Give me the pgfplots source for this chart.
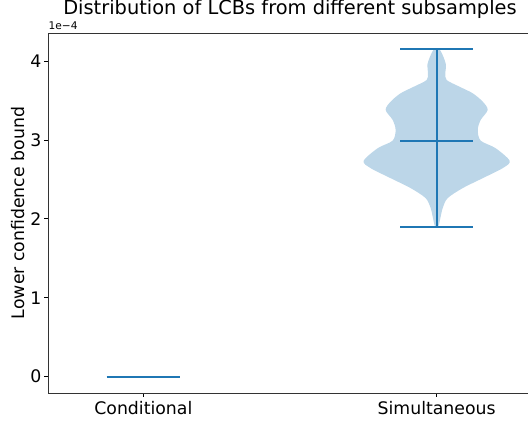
\documentclass[border=0pt]{standalone}
\usepackage{fontspec}
\setmainfont{DejaVu Sans}
\usepackage{pgfplots}
\pgfplotsset{compat=1.18}
\definecolor{c0}{HTML}{1F77B4}
\definecolor{vfill}{HTML}{BCD6E8}
\begin{document}
\begin{tikzpicture}
\begin{axis}[
  at={(0,0)}, anchor=south west,
  scale only axis, width=484bp, height=360bp,
  xmin=0.675, xmax=2.325, ymin=-0.2075, ymax=4.355,
  xtick={1,2}, xticklabels={Conditional,Simultaneous},
  ytick={0,1,2,3,4},
  tick align=outside, tick pos=left,
  major tick length=3.5bp,
  tick style={black, line width=0.8bp},
  /pgf/number format/assume math mode=true,
  tick label style={font=\fontsize{17.3bp}{20bp}\selectfont},
  yticklabel style={inner sep=3bp},
  xticklabel style={inner sep=4.5bp},
  axis line style={black!80, line width=0.8bp},
  clip=false,
]
% Simultaneous violin body (x = 2 +/- half-width, y in units of 1e-4)
\addplot[fill=vfill, draw=none, smooth, tension=0.5] coordinates {
(2.0000,1.899) (2.0068,1.915) (2.0126,2.009) (2.0205,2.135) (2.0375,2.262) (2.0887,2.389)
(2.157,2.515) (2.225,2.642) (2.249,2.734) (2.201,2.895) (2.150,2.991) (2.140,3.127)
(2.150,3.253) (2.174,3.380) (2.157,3.485) (2.1229,3.591) (2.0775,3.675) (2.0341,3.759)
(2.0297,3.844) (2.0317,3.949) (2.0229,4.054) (2.0113,4.139) (2.0000,4.148)
(1.9887,4.139) (1.9771,4.054) (1.9683,3.949) (1.9703,3.844) (1.9659,3.759) (1.9225,3.675)
(1.8771,3.591) (1.843,3.485) (1.826,3.380) (1.850,3.253) (1.860,3.127) (1.850,2.991)
(1.799,2.895) (1.751,2.734) (1.775,2.642) (1.843,2.515) (1.9113,2.389) (1.9625,2.262)
(1.9795,2.135) (1.9874,2.009) (1.9932,1.915) (2.0000,1.899)
};
% Simultaneous: range bar, min, max, median
\addplot[c0, line width=1.9bp] coordinates {(2,1.899) (2,4.148)};
\addplot[c0, line width=1.9bp] coordinates {(1.875,1.899) (2.125,1.899)};
\addplot[c0, line width=1.9bp] coordinates {(1.875,4.148) (2.125,4.148)};
\addplot[c0, line width=1.9bp] coordinates {(1.875,2.987) (2.125,2.987)};
% Conditional: all values zero
\addplot[c0, line width=1.9bp] coordinates {(0.875,0) (1.125,0)};
\end{axis}
\node[anchor=base west, inner sep=0pt, font=\fontsize{10.6bp}{12bp}\selectfont] at (0.5bp,363bp) {1e−4};
\node[anchor=base, inner sep=0pt, font=\fontsize{19.4bp}{22bp}\selectfont] at (242bp,378bp) {Distribution of LCBs from different subsamples};
\node[rotate=90, anchor=center, inner sep=0pt, font=\fontsize{17.3bp}{20bp}\selectfont] at (-29.5bp,180bp) {Lower confidence bound};
\pgfresetboundingbox
\path (-48bp,-30bp) rectangle (480bp,393bp);
\end{tikzpicture}
\end{document}
